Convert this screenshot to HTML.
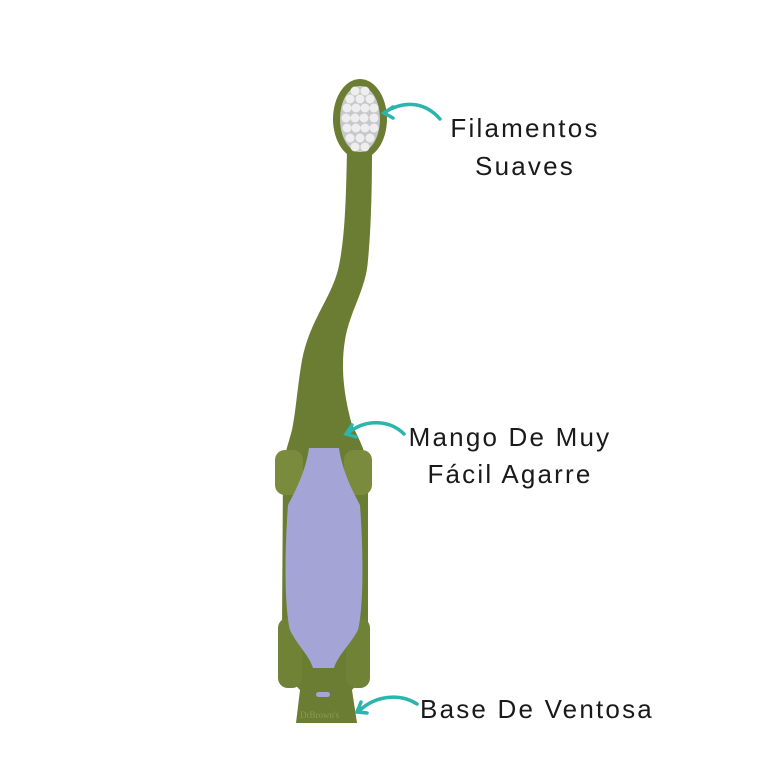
<!DOCTYPE html>
<html><head><meta charset="utf-8"><style>
body{margin:0;background:#fff;}
svg{display:block}
text{font-family:"Liberation Sans",sans-serif;font-size:26px;fill:#1a1a1a;letter-spacing:2.2px}
</style></head><body>
<svg width="783" height="783" viewBox="0 0 783 783">
<!-- handle -->
<path d="M347,150 C346,200 345,240 338,270 C330,300 310,320 302,360 C297,390 296,410 292,430 C288,445 284,455 283,470 L282,630 C282,660 290,680 300,690 L296,723 L357,723 L352,690 C362,680 368,660 368,630 L368,470 C367,455 360,440 352,425 C345,400 340,370 345,340 C350,310 366,290 368,260 C371,230 372,190 372,150 Z" fill="#6b7d32"/>
<!-- side bumps -->
<rect x="275" y="450" width="28" height="45" rx="10" fill="#7a8b3e"/>
<rect x="344" y="450" width="28" height="45" rx="10" fill="#7a8b3e"/>
<rect x="278" y="618" width="24" height="70" rx="10" fill="#6f8236"/>
<rect x="346" y="618" width="24" height="70" rx="10" fill="#6f8236"/>
<!-- purple -->
<path d="M309,448 L339,448 C342,470 352,490 360,505 C364,560 363,610 358,630 C350,645 338,655 334,668 L313,668 C309,655 297,645 290,630 C285,610 284,560 288,505 C296,490 306,470 309,448 Z" fill="#a5a4d6"/>
<rect x="316" y="692" width="14" height="5" rx="2.5" fill="#a5a4d6"/>
<text x="300" y="718" style="font-size:9px;letter-spacing:0;fill:#8a9a55;font-family:'Liberation Serif',serif">DrBrown's</text>
<!-- head -->
<ellipse cx="360" cy="119" rx="27" ry="40" fill="#6b7d32"/>
<ellipse cx="360" cy="119" rx="20" ry="33" fill="#c8c8cc"/>
<g fill="#eeeeee">
<circle cx="355" cy="91" r="4.5"/><circle cx="365" cy="91" r="4.5"/>
<circle cx="350" cy="99" r="4.5"/><circle cx="360" cy="99" r="4.5"/><circle cx="370" cy="99" r="4.5"/>
<circle cx="347" cy="108" r="4.5"/><circle cx="356" cy="108" r="4.5"/><circle cx="365" cy="108" r="4.5"/><circle cx="374" cy="108" r="4.5"/>
<circle cx="346" cy="118" r="4.5"/><circle cx="355" cy="118" r="4.5"/><circle cx="364" cy="118" r="4.5"/><circle cx="374" cy="118" r="4.5"/>
<circle cx="347" cy="128" r="4.5"/><circle cx="356" cy="128" r="4.5"/><circle cx="365" cy="128" r="4.5"/><circle cx="374" cy="128" r="4.5"/>
<circle cx="350" cy="138" r="4.5"/><circle cx="360" cy="138" r="4.5"/><circle cx="370" cy="138" r="4.5"/>
<circle cx="355" cy="147" r="4.5"/><circle cx="365" cy="147" r="4.5"/>
</g>
<!-- arrows -->
<g fill="none" stroke="#2bb5ad" stroke-width="3.5" stroke-linecap="round">
<path d="M440,119 C425,102 405,100 385,112"/><path d="M393,107 L384,113 L393,118"/>
<path d="M404,434 C390,420 365,418 347,434"/><path d="M352,425 L346,434 L356,437"/>
<path d="M417,704 C400,693 375,695 358,712"/><path d="M361,702 L357,712 L367,713"/>
</g>
<text x="525" y="137" text-anchor="middle">Filamentos</text>
<text x="525" y="175" text-anchor="middle">Suaves</text>
<text x="510" y="446" text-anchor="middle">Mango De Muy</text>
<text x="510" y="483" text-anchor="middle">Fácil Agarre</text>
<text x="537" y="718" text-anchor="middle">Base De Ventosa</text>
</svg>
</body></html>
